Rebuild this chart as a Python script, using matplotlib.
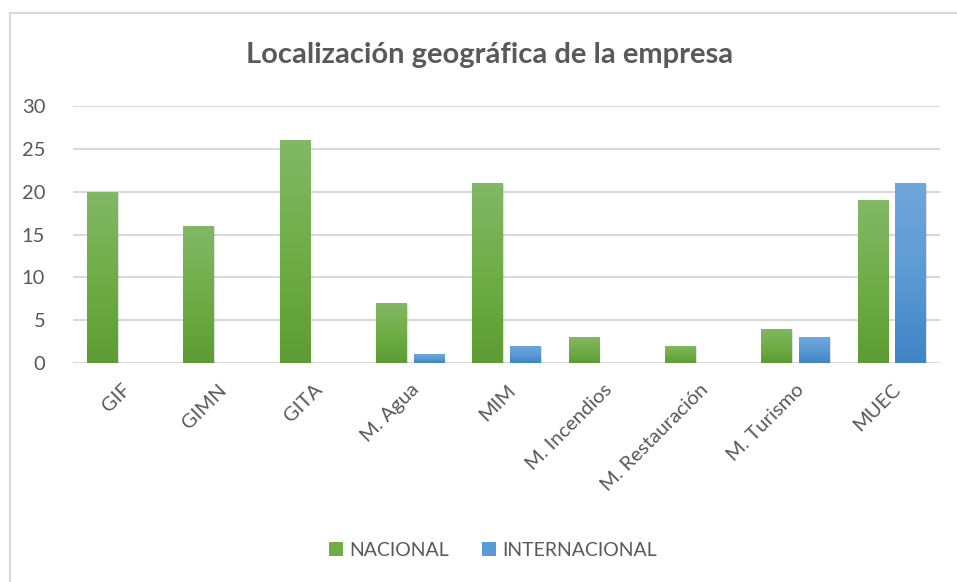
import numpy as np
import matplotlib
matplotlib.use("Agg")
import matplotlib.pyplot as plt
from matplotlib.patches import Rectangle
from matplotlib.colors import LinearSegmentedColormap

categories = ["GIF", "GIMN", "GITA", "M. Agua", "MIM", "M. Incendios",
              "M. Restauración", "M. Turismo", "MUEC"]
nacional = [20, 16, 26, 7, 21, 3, 2, 4, 19]
internacional = [0, 0, 0, 1, 2, 0, 0, 3, 21]
series_names = ["NACIONAL", "INTERNACIONAL"]
y_ticks = [0, 5, 10, 15, 20, 25, 30]

text_color = "#595959"
plt.rcParams["font.family"] = ["Lato", "DejaVu Sans"]

fig = plt.figure(figsize=(9.57, 5.82), dpi=100)
# chart frame
fig.patches.append(Rectangle((10 / 957, -0.1), 1.2, 1 - 13 / 582 + 0.1,
                             transform=fig.transFigure, fill=False,
                             edgecolor="#d9d9d9", linewidth=1.5))

ax = fig.add_axes([73 / 957, 1 - 363 / 582, (940 - 73) / 957, (363 - 106) / 582])

x = np.arange(len(categories))
w = 0.32
off = 0.195

green_cmap = LinearSegmentedColormap.from_list("g", ["#5d9c33", "#70ad47", "#82b866"])
blue_cmap = LinearSegmentedColormap.from_list("b", ["#3f84c6", "#5b9bd5", "#70a6dc"])

bars_n = ax.bar(x - off, nacional, w, color="#70ad47", label=series_names[0], zorder=3)
bars_i = ax.bar(x + off, internacional, w, color="#5b9bd5", label=series_names[1], zorder=3)

grad = np.linspace(0, 1, 256).reshape(-1, 1)
for bars, cmap in [(bars_n, green_cmap), (bars_i, blue_cmap)]:
    for b in bars:
        bx, by = b.get_x(), b.get_y()
        bw, bh = b.get_width(), b.get_height()
        # soft shadow
        ax.add_patch(Rectangle((bx + 0.01, by - 0.25), bw, bh + 0.15,
                               color="#000000", alpha=0.12, zorder=2, linewidth=0))
        if bh <= 0:
            continue
        b.set_facecolor("none")
        im = ax.imshow(grad, cmap=cmap, aspect="auto", origin="lower",
                       extent=[bx, bx + bw, by, by + bh], zorder=3.5)
        im.set_clip_path(b)

ax.set_xlim(-0.5, len(categories) - 0.5)
ax.set_ylim(0, 30)
ax.set_yticks(y_ticks)
ax.set_xticks(x)
ax.set_xticklabels(categories, rotation=45, ha="right", rotation_mode="anchor")
ax.tick_params(axis="both", length=0, colors=text_color)
ax.tick_params(axis="y", pad=20, labelsize=14.5)
ax.tick_params(axis="x", pad=13, labelsize=14.5)
ax.grid(axis="y", color="#d9d9d9", linewidth=1.5, zorder=0)
for s in ax.spines.values():
    s.set_visible(False)

fig.text(0.512, 1 - 55 / 582, "Localización geográfica de la empresa",
         ha="center", va="center", fontsize=21, fontweight="bold", color=text_color)

leg = fig.legend(handles=[bars_n[0], bars_i[0]], labels=series_names,
                 loc="center", bbox_to_anchor=(0.515, 1 - 550 / 582), ncol=2,
                 frameon=False, fontsize=14, handlelength=0.75, handleheight=0.75,
                 handletextpad=0.3, columnspacing=1.7, labelcolor=text_color)
for h, c in zip(leg.legend_handles, ["#70ad47", "#5b9bd5"]):
    h.set_facecolor(c)

fig.savefig("out.png", dpi=100)
